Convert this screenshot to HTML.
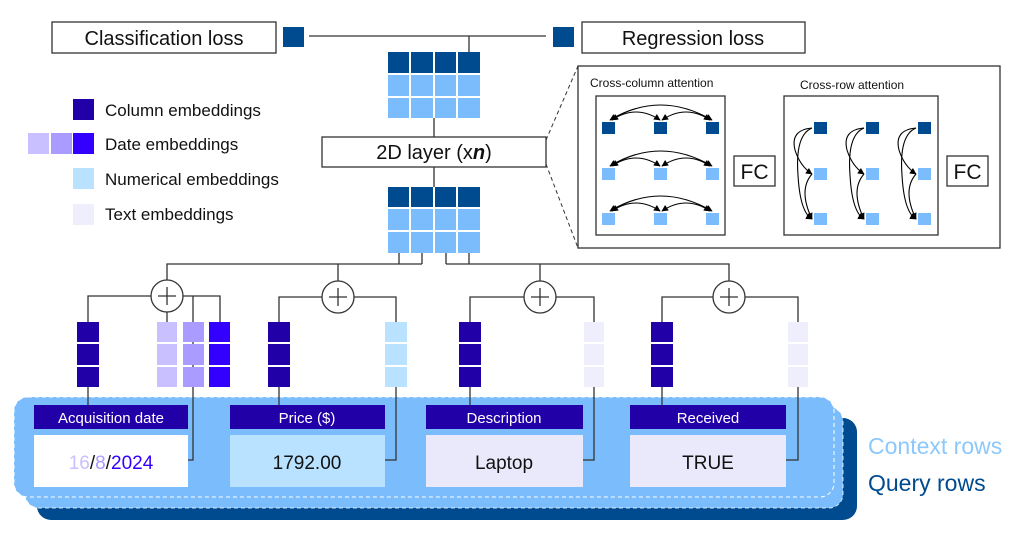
<!DOCTYPE html>
<html><head><meta charset="utf-8"><style>
html,body{margin:0;padding:0;background:#fff;}
svg{display:block;font-family:"Liberation Sans",sans-serif;}
</style></head><body>
<svg width="1024" height="538" viewBox="0 0 1024 538" xmlns="http://www.w3.org/2000/svg">
<defs>
<marker id="ah" viewBox="0 0 10 10" refX="9" refY="5" markerWidth="6" markerHeight="6" orient="auto-start-reverse"><path d="M0,0 L10,5 L0,10 z" fill="#000"/></marker>
</defs>
<!-- top losses -->
<rect x="52" y="22" width="224" height="31" fill="#fff" stroke="#333" stroke-width="1.3"/>
<text x="164" y="45" font-size="20" text-anchor="middle" fill="#111">Classification loss</text>
<rect x="283" y="27" width="21" height="20" fill="#004a8f"/>
<line x1="309" y1="36" x2="546" y2="36" stroke="#333" stroke-width="1.3"/>
<rect x="553" y="27" width="21" height="20" fill="#004a8f"/>
<rect x="582" y="22" width="223" height="31" fill="#fff" stroke="#333" stroke-width="1.3"/>
<text x="693" y="45" font-size="20" text-anchor="middle" fill="#111">Regression loss</text>
<line x1="469" y1="36" x2="469" y2="52" stroke="#333" stroke-width="1.3"/>
<!-- top grid -->
<g>
<rect x="388" y="52" width="21" height="21" fill="#004a8f"/><rect x="411" y="52" width="22" height="21" fill="#004a8f"/><rect x="435" y="52" width="21" height="21" fill="#004a8f"/><rect x="458" y="52" width="22" height="21" fill="#004a8f"/>
<rect x="388" y="75" width="21" height="21" fill="#7abcfc"/><rect x="411" y="75" width="22" height="21" fill="#7abcfc"/><rect x="435" y="75" width="21" height="21" fill="#7abcfc"/><rect x="458" y="75" width="22" height="21" fill="#7abcfc"/>
<rect x="388" y="98" width="21" height="20" fill="#7abcfc"/><rect x="411" y="98" width="22" height="20" fill="#7abcfc"/><rect x="435" y="98" width="21" height="20" fill="#7abcfc"/><rect x="458" y="98" width="22" height="20" fill="#7abcfc"/>
</g>
<line x1="434" y1="118" x2="434" y2="137" stroke="#333" stroke-width="1.3"/>
<rect x="322" y="137" width="224" height="30" fill="#fff" stroke="#333" stroke-width="1.3"/>
<text x="434" y="159" font-size="20" text-anchor="middle" fill="#111">2D layer (x<tspan font-style="italic" font-weight="bold">n</tspan>)</text>
<line x1="434" y1="167" x2="434" y2="187" stroke="#333" stroke-width="1.3"/>
<g>
<rect x="388" y="187" width="21" height="20" fill="#004a8f"/><rect x="411" y="187" width="22" height="20" fill="#004a8f"/><rect x="435" y="187" width="21" height="20" fill="#004a8f"/><rect x="458" y="187" width="22" height="20" fill="#004a8f"/>
<rect x="388" y="209" width="21" height="21" fill="#7abcfc"/><rect x="411" y="209" width="22" height="21" fill="#7abcfc"/><rect x="435" y="209" width="21" height="21" fill="#7abcfc"/><rect x="458" y="209" width="22" height="21" fill="#7abcfc"/>
<rect x="388" y="232" width="21" height="21" fill="#7abcfc"/><rect x="411" y="232" width="22" height="21" fill="#7abcfc"/><rect x="435" y="232" width="21" height="21" fill="#7abcfc"/><rect x="458" y="232" width="22" height="21" fill="#7abcfc"/>
</g>
<!-- dashed zoom lines -->
<line x1="546" y1="140" x2="578" y2="66" stroke="#333" stroke-width="1" stroke-dasharray="4,3"/>
<line x1="546" y1="164" x2="578" y2="248" stroke="#333" stroke-width="1" stroke-dasharray="4,3"/>
<!-- legend -->
<rect x="73" y="99" width="21" height="21" fill="#2200a8"/>
<text x="105" y="116" font-size="17" fill="#111">Column embeddings</text>
<rect x="28" y="133" width="21" height="21" fill="#c9c0ff"/><rect x="51" y="133" width="21" height="21" fill="#a99bff"/><rect x="73" y="133" width="21" height="21" fill="#3300ff"/>
<text x="105" y="150" font-size="17" fill="#111">Date embeddings</text>
<rect x="73" y="168" width="21" height="21" fill="#b8e2ff"/>
<text x="105" y="185" font-size="17" fill="#111">Numerical embeddings</text>
<rect x="73" y="204" width="21" height="21" fill="#efeefc"/>
<text x="105" y="220" font-size="17" fill="#111">Text embeddings</text>
<!-- attention detail -->
<rect x="578" y="66" width="422" height="182" fill="#fff" stroke="#333" stroke-width="1.3"/>
<text x="590" y="87" font-size="12" fill="#111">Cross-column attention</text>
<rect x="596" y="96" width="129" height="139" fill="#fff" stroke="#333" stroke-width="1.3"/>
<g fill="#004a8f"><rect x="602" y="122" width="13" height="12"/><rect x="654" y="122" width="13" height="12"/><rect x="706" y="122" width="13" height="12"/></g>
<g fill="#7abcfc"><rect x="602" y="168" width="13" height="12"/><rect x="654" y="168" width="13" height="12"/><rect x="706" y="168" width="13" height="12"/>
<rect x="602" y="213" width="13" height="12"/><rect x="654" y="213" width="13" height="12"/><rect x="706" y="213" width="13" height="12"/></g>
<g fill="none" stroke="#000" stroke-width="1.1" marker-start="url(#ah)" marker-end="url(#ah)">
<path d="M610,120 Q660,90 712,120"/><path d="M612,120 Q636,104 660,120"/><path d="M662,120 Q686,104 710,120"/>
<path d="M610,166 Q660,136 712,166"/><path d="M612,166 Q636,150 660,166"/><path d="M662,166 Q686,150 710,166"/>
<path d="M610,211 Q660,181 712,211"/><path d="M612,211 Q636,195 660,211"/><path d="M662,211 Q686,195 710,211"/>
</g>
<rect x="734" y="156" width="41" height="30" fill="#fff" stroke="#333" stroke-width="1.3"/>
<text x="754.5" y="179" font-size="21" text-anchor="middle" fill="#111">FC</text>
<text x="800" y="89" font-size="12" fill="#111">Cross-row attention</text>
<rect x="784" y="96" width="154" height="139" fill="#fff" stroke="#333" stroke-width="1.3"/>
<g fill="#004a8f"><rect x="814" y="122" width="13" height="12"/><rect x="866" y="122" width="13" height="12"/><rect x="918" y="122" width="13" height="12"/></g>
<g fill="#7abcfc"><rect x="814" y="168" width="13" height="12"/><rect x="866" y="168" width="13" height="12"/><rect x="918" y="168" width="13" height="12"/>
<rect x="814" y="213" width="13" height="12"/><rect x="866" y="213" width="13" height="12"/><rect x="918" y="213" width="13" height="12"/></g>
<g fill="none" stroke="#000" stroke-width="1.1">
<g marker-end="url(#ah)">
<path d="M812,128 Q790,130 795,150 Q800,166 812,174"/><path d="M812,128 Q795,135 798,175 Q800,212 812,219"/><path d="M812,174 Q798,190 812,219"/>
<path d="M864,128 Q842,130 847,150 Q852,166 864,174"/><path d="M864,128 Q847,135 850,175 Q852,212 864,219"/><path d="M864,174 Q850,190 864,219"/>
<path d="M916,128 Q894,130 899,150 Q904,166 916,174"/><path d="M916,128 Q899,135 902,175 Q904,212 916,219"/><path d="M916,174 Q902,190 916,219"/>
</g></g>
<rect x="947" y="156" width="41" height="30" fill="#fff" stroke="#333" stroke-width="1.3"/>
<text x="967.5" y="179" font-size="21" text-anchor="middle" fill="#111">FC</text>
<!-- row panels -->
<rect x="37" y="418" width="820" height="102" rx="14" fill="#004a8f"/>
<rect x="25" y="407" width="818" height="101" rx="14" fill="#7abcfc"/>
<rect x="25" y="407" width="818" height="101" rx="14" fill="none" stroke="#fff" stroke-width="1" stroke-dasharray="4,3" opacity="0.8"/>
<rect x="14" y="397" width="820" height="100" rx="14" fill="#7abcfc"/>
<rect x="14" y="397" width="820" height="100" rx="14" fill="none" stroke="#fff" stroke-width="1" stroke-dasharray="4,3"/>
<text x="868" y="454" font-size="23" fill="#8cc8fb">Context rows</text>
<text x="868" y="491" font-size="23" fill="#004a8f">Query rows</text>
<!-- tree lines -->
<g fill="none" stroke="#333" stroke-width="1.3">
<path d="M399,253 V264 M422,253 V264 M167,280 V264 H422 M338,264 V281"/>
<path d="M446,253 V264 M469,253 V264 M446,264 H729 V281 M540,264 V281"/>
<path d="M151,296 H88 V322 M88,387 V405"/>
<path d="M183,296 H220 V322 M193,296 V460 H188 M167,312 V322"/>
<path d="M322,297 H279 V322 M279,387 V405 M354,297 H396 V322 M396,387 V460 H385"/>
<path d="M524,297 H470 V322 M470,387 V405 M556,297 H594 V322 M594,387 V460 H583"/>
<path d="M713,297 H662 V322 M662,387 V405 M745,297 H798 V322 M798,387 V460 H786"/>
</g>
<g fill="#fff" stroke="#333" stroke-width="1.3">
<circle cx="167" cy="296" r="16"/><circle cx="338" cy="297" r="16"/><circle cx="540" cy="297" r="16"/><circle cx="729" cy="297" r="16"/>
</g>
<g stroke="#333" stroke-width="1.3">
<path d="M158,296 H176 M167,287 V305"/><path d="M329,297 H347 M338,288 V306"/><path d="M531,297 H549 M540,288 V306"/><path d="M720,297 H738 M729,288 V306"/>
</g>
<!-- embedding stacks -->
<g>
<rect x="77" y="322" width="22" height="20" fill="#2200a8"/><rect x="77" y="344" width="22" height="21" fill="#2200a8"/><rect x="77" y="367" width="22" height="20" fill="#2200a8"/>
<rect x="157" y="322" width="20" height="20" fill="#c9c0ff"/><rect x="157" y="344" width="20" height="21" fill="#c9c0ff"/><rect x="157" y="367" width="20" height="20" fill="#c9c0ff"/>
<rect x="183" y="322" width="21" height="20" fill="#a99bff"/><rect x="183" y="344" width="21" height="21" fill="#a99bff"/><rect x="183" y="367" width="21" height="20" fill="#a99bff"/>
<rect x="209" y="322" width="21" height="20" fill="#3300ff"/><rect x="209" y="344" width="21" height="21" fill="#3300ff"/><rect x="209" y="367" width="21" height="20" fill="#3300ff"/>
<rect x="268" y="322" width="22" height="20" fill="#2200a8"/><rect x="268" y="344" width="22" height="21" fill="#2200a8"/><rect x="268" y="367" width="22" height="20" fill="#2200a8"/>
<rect x="385" y="322" width="22" height="20" fill="#b8e2ff"/><rect x="385" y="344" width="22" height="21" fill="#b8e2ff"/><rect x="385" y="367" width="22" height="20" fill="#b8e2ff"/>
<rect x="459" y="322" width="22" height="20" fill="#2200a8"/><rect x="459" y="344" width="22" height="21" fill="#2200a8"/><rect x="459" y="367" width="22" height="20" fill="#2200a8"/>
<rect x="584" y="322" width="20" height="20" fill="#efeefc"/><rect x="584" y="344" width="20" height="21" fill="#efeefc"/><rect x="584" y="367" width="20" height="20" fill="#efeefc"/>
<rect x="651" y="322" width="22" height="20" fill="#2200a8"/><rect x="651" y="344" width="22" height="21" fill="#2200a8"/><rect x="651" y="367" width="22" height="20" fill="#2200a8"/>
<rect x="788" y="322" width="20" height="20" fill="#efeefc"/><rect x="788" y="344" width="20" height="21" fill="#efeefc"/><rect x="788" y="367" width="20" height="20" fill="#efeefc"/>
</g>
<!-- headers and values -->
<rect x="34" y="405" width="154" height="24" fill="#2200a8"/>
<text x="111" y="423" font-size="15" text-anchor="middle" fill="#fff">Acquisition date</text>
<rect x="34" y="435" width="154" height="52" fill="#fff"/>
<text x="111" y="469" font-size="19" text-anchor="middle"><tspan fill="#c9c0ff">16</tspan><tspan fill="#111">/</tspan><tspan fill="#a99bff">8</tspan><tspan fill="#111">/</tspan><tspan fill="#3300ff">2024</tspan></text>
<rect x="230" y="405" width="155" height="24" fill="#2200a8"/>
<text x="307" y="423" font-size="15" text-anchor="middle" fill="#fff">Price ($)</text>
<rect x="230" y="435" width="155" height="52" fill="#b8e2ff"/>
<text x="307" y="469" font-size="19" text-anchor="middle" fill="#111">1792.00</text>
<rect x="426" y="405" width="157" height="24" fill="#2200a8"/>
<text x="504" y="423" font-size="15" text-anchor="middle" fill="#fff">Description</text>
<rect x="426" y="435" width="157" height="52" fill="#e9e9fb"/>
<text x="504" y="469" font-size="19" text-anchor="middle" fill="#111">Laptop</text>
<rect x="630" y="405" width="156" height="24" fill="#2200a8"/>
<text x="708" y="423" font-size="15" text-anchor="middle" fill="#fff">Received</text>
<rect x="630" y="435" width="156" height="52" fill="#e9e9fb"/>
<text x="708" y="469" font-size="19" text-anchor="middle" fill="#111">TRUE</text>
</svg>
</body></html>
